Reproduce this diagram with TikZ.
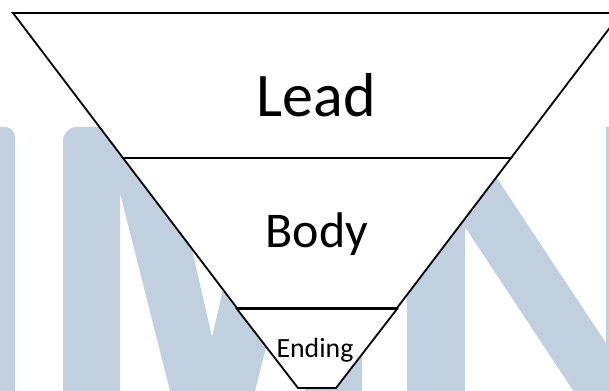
\documentclass[tikz,border=0pt]{standalone}
\usepackage{fontspec}
\setmainfont{Carlito}
\definecolor{wm}{RGB}{193,208,222}
\tikzset{
  wmark/.style={fill=wm},
  part/.style={fill=white, draw=black, line width=1.8pt, line join=miter},
  sep/.style={draw=black, line width=3.6pt},
  lbl/.style={anchor=base, inner sep=0pt, text=black}
}
\begin{document}
\begin{tikzpicture}[x=1pt,y=-1pt]
\useasboundingbox (0,0) rectangle (609,390);
\clip (0,0) rectangle (609,390);
\fill[white] (0,0) rectangle (609,390);
% watermark letters
\fill[wmark] (-20,390) -- (-20,127) [rounded corners=10pt] -- (15,127) [sharp corners] -- (15,400) -- (-20,400) -- cycle;
\fill[wmark] (63,395) [rounded corners=14pt] -- (63,127) [sharp corners] -- (164,127) -- (212,337) -- (261,127) [rounded corners=14pt] -- (362,127) [sharp corners] -- (362,395) -- (305,395) -- (305,193) -- (254,395) -- (171,395) -- (120,193) -- (120,395) -- cycle;
\fill[wmark] (407,395) [rounded corners=12pt] -- (407,127) [sharp corners] -- (463,127) -- (606,343) -- (606,127) -- (630,127) -- (630,395) -- (576,395) -- (465,227) -- (465,395) -- cycle;
% funnel
\path[part] (13,13) -- (621,13) -- (511,158) -- (123,158) -- cycle;
\path[part] (123,158) -- (511,158) -- (397,308) -- (237,308) -- cycle;
\path[part] (237,309) -- (397,309) -- (336,388) -- (298,388) -- cycle;
\draw[sep] (237,308.5) -- (397,308.5);
% labels
\node[lbl] (lead) at (316,117) {\fontsize{62}{62}\selectfont Lead};
\node[lbl] (body) at (317,247) {\fontsize{50}{50}\selectfont Body};
\node[lbl] (ending) at (315,357) {\fontsize{27.8}{27.8}\selectfont Ending};
\end{tikzpicture}
\end{document}
